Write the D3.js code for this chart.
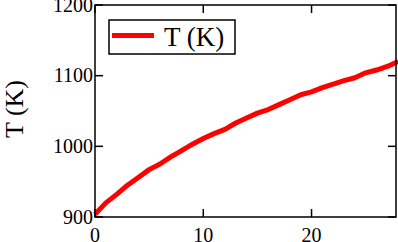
<!DOCTYPE html>
<html>
<head>
<meta charset="utf-8">
<script src="https://cdn.jsdelivr.net/npm/d3@7"></script>
<style>
  body { margin: 0; background: #fff; }
</style>
</head>
<body>
<div id="chart"></div>
<script>
// time index and temperature
var times = d3.range(0, 29)
var temps = [904, 920, 932, 945, 956, 967, 975, 985, 994, 1003, 1011, 1018, 1024, 1033, 1040,
  1047, 1052, 1059, 1066, 1073, 1077, 1083, 1088, 1093, 1097, 1104, 1108, 1113, 1120]
var xTicks = [0, 10, 20]
var yTicks = [900, 1000, 1100, 1200]
var seriesName = 'T (K)'

var font = 'Liberation Serif, Times New Roman, serif'
var width = 398, height = 242
var m = {top: 5, left: 95, right: 2, bottom: 25}

var svg = d3.select('#chart').append('svg')
  .attr('width', width).attr('height', height)
  .attr('font-family', font)

var x = d3.scaleLinear().domain([0, 27.8]).range([m.left, width - m.right])
var y = d3.scaleLinear().domain([900, 1200]).range([height - m.bottom, m.top])

var tick = 8
var g = svg.append('g')

// inward ticks on all four sides
xTicks.forEach(t => {
  g.append('line').attr('x1', x(t)).attr('x2', x(t))
    .attr('y1', y(900)).attr('y2', y(900) - tick)
    .attr('stroke', '#000').attr('stroke-width', 1.5)
  g.append('line').attr('x1', x(t)).attr('x2', x(t))
    .attr('y1', y(1200)).attr('y2', y(1200) + tick)
    .attr('stroke', '#000').attr('stroke-width', 1.5)
  g.append('text').attr('x', x(t)).attr('y', 242)
    .attr('text-anchor', 'middle').attr('font-size', 20).text(t)
})

yTicks.forEach(t => {
  g.append('line').attr('x1', x(0)).attr('x2', x(0) + tick)
    .attr('y1', y(t)).attr('y2', y(t))
    .attr('stroke', '#000').attr('stroke-width', 1.5)
  g.append('line').attr('x1', x(27.8)).attr('x2', x(27.8) - tick)
    .attr('y1', y(t)).attr('y2', y(t))
    .attr('stroke', '#000').attr('stroke-width', 1.5)
  g.append('text').attr('x', x(0) - 2).attr('y', y(t))
    .attr('dy', '0.34em')
    .attr('text-anchor', 'end').attr('font-size', 20).text(t)
})

var line = d3.line()
  .x((d, i) => x(times[i]))
  .y(d => y(d))

svg.append('path').datum(temps)
  .attr('d', line)
  .attr('fill', 'none')
  .attr('stroke', '#f00')
  .attr('stroke-width', 5)
  .attr('stroke-linejoin', 'round')

// frame
svg.append('rect')
  .attr('x', x(0)).attr('y', y(1200))
  .attr('width', x(27.8) - x(0)).attr('height', y(900) - y(1200))
  .attr('fill', 'none').attr('stroke', '#000').attr('stroke-width', 1.5)

// legend
var leg = svg.append('g')
leg.append('rect').attr('x', 109).attr('y', 20).attr('width', 126).attr('height', 34)
  .attr('fill', '#fff').attr('stroke', '#000').attr('stroke-width', 1.5)
leg.append('line').attr('x1', 112).attr('x2', 154).attr('y1', 35.5).attr('y2', 35.5)
  .attr('stroke', '#f00').attr('stroke-width', 5)
leg.append('text').attr('x', 164).attr('y', 46)
  .attr('font-size', 27).text(seriesName)

// y axis title
svg.append('text')
  .attr('transform', 'translate(23,109) rotate(-90)')
  .attr('text-anchor', 'middle').attr('font-size', 26)
  .text(seriesName)
</script>
</body>
</html>
